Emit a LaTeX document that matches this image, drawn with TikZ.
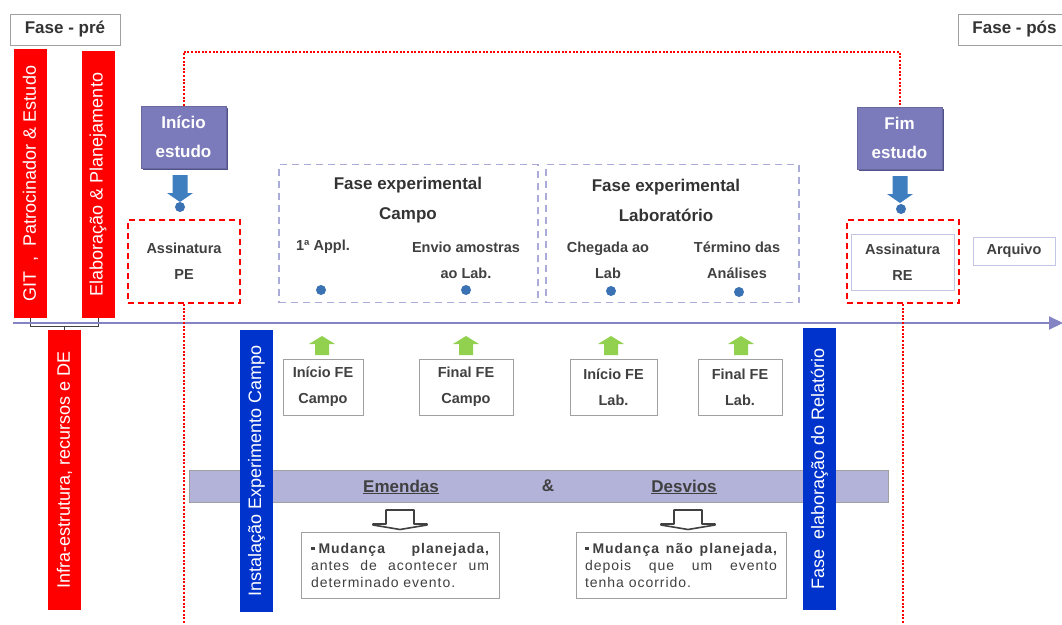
\documentclass[tikz,border=0pt]{standalone}
\usepackage{fontspec}
\setmainfont{Liberation Sans}
\newfontfamily\descfont{Liberation Sans}[LetterSpace=7]
\usetikzlibrary{arrows.meta,shadows}
\definecolor{myred}{HTML}{FF0000}
\definecolor{purp}{HTML}{7B7BBB}
\definecolor{purpdark}{HTML}{50508A}
\definecolor{tline}{HTML}{8484C4}
\definecolor{lav}{HTML}{ABABD9}
\definecolor{lavlight}{HTML}{C4C4E4}
\definecolor{bandc}{HTML}{B3B3D9}
\definecolor{bbar}{HTML}{0033CC}
\definecolor{arrblue}{HTML}{3F7FC0}
\definecolor{dotblue}{HTML}{3A72B4}
\definecolor{grn}{HTML}{92D050}
\definecolor{txt}{HTML}{404040}
\definecolor{txtdark}{HTML}{333333}
\definecolor{gbord}{HTML}{A0A0A0}
\newcommand\fsz[2]{\fontsize{#1}{#2}\selectfont}
\newcommand\sqbullet{\rule[3pt]{3.5pt}{3.5pt}\kern4pt}
\tikzset{
  pics/downarr/.style={code={\fill[arrblue] (-7.5,0) -- (7.5,0) -- (7.5,18) -- (13,18) -- (0,27) -- (-13,18) -- (-7.5,18) -- cycle;}},
  pics/uparr/.style={code={\fill[grn] (-7,19) -- (7,19) -- (7,8) -- (13,8) -- (0,0) -- (-13,8) -- (-7,8) -- cycle;}},
  pics/hollowarr/.style={code={\draw[draw=txt, line width=1.6pt, fill=white, line join=round] (-14,0) -- (14,0) -- (14,14) -- (27,14) -- (27,15) -- (0,19.5) -- (-27,15) -- (-27,14) -- (-14,14) -- cycle;}},
}
\begin{document}
\begin{tikzpicture}[x=1pt,y=-1pt,
  phasebox/.style={draw=gbord, line width=1pt, fill=white, text=txtdark, font=\bfseries\fsz{17}{20}, inner sep=0pt},
  bar/.style={rotate=90, text=white, inner sep=0pt, font=\fsz{18}{20}, minimum height=33pt},
  redbar/.style={bar, fill=myred},
  bluebar/.style={bar, fill=bbar},
  purpbox/.style={fill=purp, draw=purp!85!black, line width=0.6pt, text=white, font=\bfseries\fsz{17}{29}, align=center, minimum width=85pt, minimum height=62pt, inner sep=0pt, drop shadow={shadow xshift=2pt, shadow yshift=-2pt, fill=purpdark, opacity=1}},
  reddash/.style={draw=myred, line width=1.8pt, dash pattern=on 6pt off 4pt, inner sep=0pt},
  lavdash/.style={draw=lav, line width=1.5pt, dash pattern=on 7pt off 5pt, inner sep=0pt},
  lbl/.style={text=txt, font=\bfseries\fsz{14.5}{26}, align=center, inner sep=0pt},
  titl/.style={text=txtdark, font=\bfseries\fsz{17}{30}, align=center, inner sep=0pt},
  evbox/.style={draw=gbord, line width=0.8pt, fill=white, lbl, minimum height=56pt},
  dot/.style={circle, fill=dotblue, inner sep=0pt, minimum size=10pt},
  reddot/.style={draw=myred, line width=2pt, dash pattern=on 2pt off 1.6pt},
  brk/.style={draw=darkgray, line width=0.8pt},
  timeline/.style={draw=tline, line width=2pt, -{Triangle[length=14pt,width=13pt]}},
  descbox/.style={draw=gbord, line width=0.8pt, fill=white, text=txt, font=\descfont\fsz{14}{17}, align=left, inner sep=0pt, minimum height=66pt},
  bandtxt/.style={text=txt, font=\bfseries\fsz{17}{20}, inner sep=0pt},
]
\useasboundingbox (0,0) rectangle (1062,624);

% phase labels
\node[phasebox, minimum width=110pt, minimum height=31pt] (pre) at (65,29.5) {Fase - pré};
\node[phasebox, minimum width=112pt, minimum height=31pt, anchor=west] (pos) at (958,29.5) {Fase - pós};

% amendments band (behind the vertical bars)
\node[draw=gbord, line width=0.8pt, fill=bandc, minimum width=699pt, minimum height=32pt, inner sep=0pt] (band) at (538.5,486) {};
\node[bandtxt] (em) at (401,487) {\underline{Emendas}};
\node[bandtxt] (amp) at (548,486) {\&};
\node[bandtxt] (des) at (684,487) {\underline{Desvios}};

% vertical bars
\node[redbar, minimum width=269pt] (git) at (30.5,183.5) {GIT\ \ ,\ \ Patrocinador \& Estudo};
\node[redbar, minimum width=267pt] (elab) at (98,184.5) {Elaboração \& Planejamento};
\node[redbar, minimum width=280pt] (infra) at (64.5,470) {Infra-estrutura, recursos e DE};
\node[bluebar, minimum width=282pt] (inst) at (256.5,471) {Instalação Experimento Campo};
\node[bluebar, minimum width=282pt] (rel) at (819.5,469) {Fase\ \ elaboração do Relatório};

% bracket
\coordinate (bk) at (64.5,326);
\draw[brk] (git.west) -- (git.west |- bk) -| (elab.west);
\draw[brk] (infra.east) -- (bk);

% timeline
\coordinate (t0) at (13,323);
\coordinate (t1) at (1063,323);
\draw[timeline] (t0) -- (t1);

% start / end boxes
\node[purpbox] (inicio) at (183.5,137) {Início\\estudo};
\node[purpbox] (fim) at (899.5,138) {Fim\\estudo};
\pic at (180,175) {downarr};
\pic at (900,176) {downarr};
\node[dot] (dpe) at (180,207) {};
\node[dot] (dre) at (901,209) {};

% signatures
\node[reddash, lbl, minimum width=112pt, minimum height=83pt] (ape) at (184,261.5) {Assinatura\\PE};
\node[reddash, minimum width=112pt, minimum height=83pt] (are) at (903,261.5) {};
\node[draw=lavlight, line width=1pt, lbl, minimum width=103pt, minimum height=56pt] (aret) at (902.5,262) {Assinatura\\RE};
\node[draw=lavlight, line width=1pt, lbl, minimum width=82pt, minimum height=28pt] (arq) at (1014,251) {Arquivo};

% dotted red frame
\coordinate (topy) at (0,52);
\coordinate (bpe) at (184,624);
\coordinate (bre) at (903,624);
\draw[reddot] (inicio.north) -- (inicio.north |- topy) -| (fim.north);
\draw[reddot] (ape.south) -- (bpe);
\draw[reddot] (are.south) -- (bre);

% experimental phases
\node[lavdash, minimum width=259pt, minimum height=138pt] (campo) at (408.5,233.5) {};
\node[lavdash, minimum width=253pt, minimum height=138pt] (lab) at (672.5,233.5) {};
\node[titl] (tc) at (408,200) {Fase experimental\\Campo};
\node[titl] (tl) at (666,200) {Fase experimental\\Laboratório};
\node[lbl] (appl) at (323,247) {1ª Appl.};
\node[lbl] (envio) at (466,260) {Envio amostras\\ao Lab.};
\node[lbl] (cheg) at (608,260) {Chegada ao\\Lab};
\node[lbl] (term) at (737,260) {Término das\\Análises};
\node[dot] (d1) at (321,290) {};
\node[dot] (d2) at (466,290) {};
\node[dot] (d3) at (611,291) {};
\node[dot] (d4) at (739,292) {};

% event boxes
\pic at (322,336) {uparr};
\pic at (466,336) {uparr};
\pic at (611,336) {uparr};
\pic at (741,336) {uparr};
\node[evbox, minimum width=80pt] (ifc) at (323,387) {Início FE\\Campo};
\node[evbox, minimum width=94pt] (ffc) at (466,387) {Final FE\\Campo};
\node[evbox, minimum width=87pt] (ifl) at (613.5,387) {Início FE\\Lab.};
\node[evbox, minimum width=84pt] (ffl) at (740,387) {Final FE\\Lab.};

% amendment arrows and descriptions
\pic at (400,510) {hollowarr};
\pic at (688,510) {hollowarr};
\node[descbox, minimum width=198pt] (desc1) at (400,565) {\makebox[178pt][s]{\bfseries\sqbullet Mudança planejada,}\\\makebox[178pt][s]{antes de acontecer um}\\determinado evento.};
\node[descbox, minimum width=210pt] (desc2) at (681,565) {\makebox[192pt][s]{\bfseries\sqbullet Mudança não planejada,}\\\makebox[192pt][s]{depois que um evento}\\tenha ocorrido.};
\end{tikzpicture}
\end{document}
